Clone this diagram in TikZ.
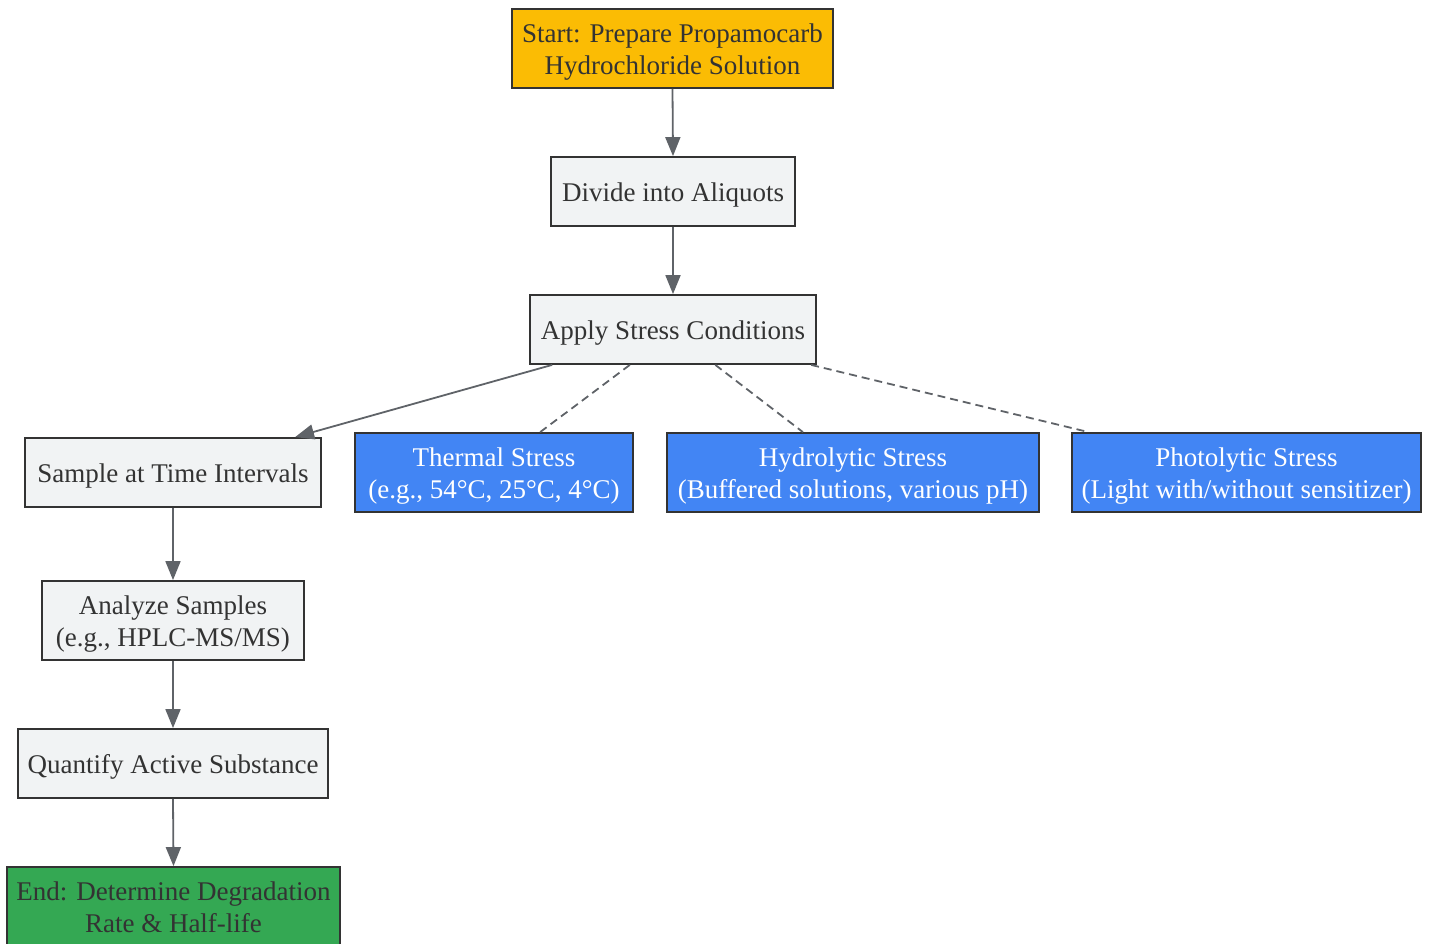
\documentclass[tikz,border=0pt]{standalone}
\usepackage{fontspec}
\setmainfont{Liberation Serif}
\usetikzlibrary{arrows.meta, calc, positioning}
\definecolor{startfill}{HTML}{FBBC04}
\definecolor{stepfill}{HTML}{F1F3F4}
\definecolor{stressfill}{HTML}{4285F4}
\definecolor{endfill}{HTML}{34A853}
\definecolor{edgegray}{HTML}{5F6368}
\definecolor{boxline}{HTML}{333333}

\begin{document}
\begin{tikzpicture}[x=1pt, y=-1pt]

% TikZ styles
\tikzset{
  box/.style={rectangle, draw=boxline, line width=1.8pt, inner sep=0pt, align=center, text=boxline, font=\fontsize{27}{32}\selectfont, text depth=7pt, text height=27pt},
  twoline/.style={text height=59pt, minimum height=79pt},
  startbox/.style={box, fill=startfill},
  stepbox/.style={box, fill=stepfill, minimum height=69pt},
  stressbox/.style={box, twoline, fill=stressfill, text=white},
  endbox/.style={box, twoline, fill=endfill},
  arrow/.style={-{Triangle[length=19pt, width=15pt]}, draw=edgegray, line width=1.8pt},
  dashline/.style={draw=edgegray, line width=1.8pt, dash pattern=on 8pt off 5pt}
}

\useasboundingbox (0,0) rectangle (1430,943);

% Hauptkette
\node[startbox, twoline, minimum width=321pt] (prepare) at (672.5,48.5) {Start: Prepare Propamocarb\\Hydrochloride Solution};
\node[stepbox, minimum width=244pt] (divide) at (673,191.5) {Divide into Aliquots};
\node[stepbox, minimum width=286pt] (stress) at (673,329.5) {Apply Stress Conditions};

% Stressbedingungen
\node[stressbox, minimum width=278pt] (thermal) at (494,472.5) {Thermal Stress\\(e.g., 54°C, 25°C, 4°C)};
\node[stressbox, minimum width=372pt] (hydro) at (853,472.5) {Hydrolytic Stress\\(Buffered solutions, various pH)};
\node[stressbox, minimum width=349pt] (photo) at (1246.5,472.5) {Photolytic Stress\\(Light with/without sensitizer)};

% Linke Kette
\node[stepbox, minimum width=296pt] (sample) at (173,472.5) {Sample at Time Intervals};
\node[stepbox, twoline, minimum width=262pt] (analyze) at (173,620.5) {Analyze Samples\\(e.g., HPLC-MS/MS)};
\node[stepbox, minimum width=310pt] (quantify) at (173,763.5) {Quantify Active Substance};
\node[endbox, minimum width=333pt] (finish) at (173.5,906.5) {End: Determine Degradation\\Rate \& Half-life};

\draw[arrow] (prepare.south) -- (divide.north);
\draw[arrow] (divide.south) -- (stress.north);
\draw[arrow] ($(stress.south west)!0.08!(stress.south east)$) -- ($(sample.north west)!0.91!(sample.north east)$);
\draw[arrow] (sample.south) -- (analyze.north);
\draw[arrow] (analyze.south) -- (quantify.north);
\draw[arrow] (quantify.south) -- (finish.north);

%Gestrichelte Linien
\draw[dashline] ($(stress.south west)!0.35!(stress.south east)$) -- ($(thermal.north west)!0.665!(thermal.north east)$);
\draw[dashline] ($(stress.south west)!0.647!(stress.south east)$) -- ($(hydro.north west)!0.366!(hydro.north east)$);
\draw[dashline] ($(stress.south west)!0.98!(stress.south east)$) -- ($(photo.north west)!0.05!(photo.north east)$);
\end{tikzpicture}
\end{document}
